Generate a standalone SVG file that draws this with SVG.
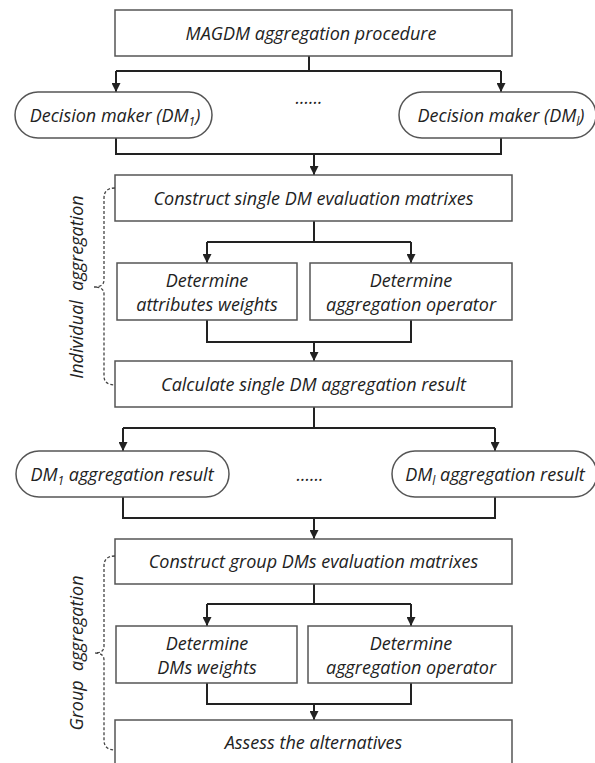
<svg xmlns="http://www.w3.org/2000/svg" width="595" height="763" viewBox="0 0 595 763">
<style>
  .box { fill: #fff; stroke: #555; stroke-width: 1.5; }
  .t { font-family: "Open Sans", "Liberation Sans", sans-serif; font-style: italic; font-size: 18px; fill: #222; text-anchor: middle; }
  .c { fill: none; stroke: #222; stroke-width: 2; }
  .brace { fill: none; stroke: #444; stroke-width: 1.3; stroke-dasharray: 3 2; }
  .sub { font-size: 12px; }
</style>
<defs>
  <marker id="ah" viewBox="0 0 10 10" refX="10" refY="5" markerWidth="4.5" markerHeight="4.5" orient="auto" markerUnits="strokeWidth">
    <path d="M0,0 L10,5 L0,10 z" fill="#222"/>
  </marker>
</defs>
<rect width="595" height="763" fill="#fff"/>

<g id="connectors">
  <path class="c" d="M309,56 V71 M116,71 H501"/>
  <path class="c" d="M116,71 V92" marker-end="url(#ah)"/>
  <path class="c" d="M501,71 V92" marker-end="url(#ah)"/>
  <path class="c" d="M116,138 V154 H501 V137"/>
  <path class="c" d="M314,154 V175" marker-end="url(#ah)"/>
  <path class="c" d="M314,221 V242 M207,242 H411"/>
  <path class="c" d="M207,242 V263" marker-end="url(#ah)"/>
  <path class="c" d="M411,242 V263" marker-end="url(#ah)"/>
  <path class="c" d="M207,320 V342 H411 V320"/>
  <path class="c" d="M314,342 V361" marker-end="url(#ah)"/>
  <path class="c" d="M314,407 V428 M123,428 H495"/>
  <path class="c" d="M123,428 V451" marker-end="url(#ah)"/>
  <path class="c" d="M495,428 V451" marker-end="url(#ah)"/>
  <path class="c" d="M123,497 V518 H495 V497"/>
  <path class="c" d="M314,518 V539" marker-end="url(#ah)"/>
  <path class="c" d="M314,584 V604 M207,604 H411"/>
  <path class="c" d="M207,604 V626" marker-end="url(#ah)"/>
  <path class="c" d="M411,604 V626" marker-end="url(#ah)"/>
  <path class="c" d="M207,683 V704 H411 V683"/>
  <path class="c" d="M314,704 V720" marker-end="url(#ah)"/>
</g>

<g id="n-top">
  <rect class="box" x="115" y="10" width="397" height="46"/>
  <text class="t" x="311" y="39.5">MAGDM aggregation procedure</text>
</g>
<g id="n-dm1">
  <rect class="box" x="15" y="92" width="197" height="46" rx="23"/>
  <text class="t" x="115" y="121.5">Decision maker (<tspan>DM</tspan><tspan class="sub" dy="4">1</tspan><tspan dy="-4">)</tspan></text>
</g>
<g id="n-dots1">
  <text class="t" x="309" y="104">......</text>
</g>
<g id="n-dml">
  <rect class="box" x="399" y="92" width="197" height="46" rx="23"/>
  <text class="t" x="501" y="121.5">Decision maker (<tspan>DM</tspan><tspan class="sub" dy="4">l</tspan><tspan dy="-4">)</tspan></text>
</g>

<g id="n-construct1">
  <rect class="box" x="115" y="175" width="397" height="46"/>
  <text class="t" x="313.5" y="204.5">Construct single DM evaluation matrixes</text>
</g>
<g id="n-attrw">
  <rect class="box" x="117" y="263" width="180" height="57"/>
  <text class="t" x="207" y="286.5">Determine</text>
  <text class="t" x="207" y="310.5">attributes weights</text>
</g>
<g id="n-op1">
  <rect class="box" x="310" y="263" width="202" height="57"/>
  <text class="t" x="411" y="286.5">Determine</text>
  <text class="t" x="411" y="310.5">aggregation operator</text>
</g>
<g id="n-calc">
  <rect class="box" x="115" y="361" width="397" height="46"/>
  <text class="t" x="313.5" y="390.5">Calculate single DM aggregation result</text>
</g>

<g id="n-res1">
  <rect class="box" x="16" y="451" width="213" height="46" rx="23"/>
  <text class="t" x="122" y="480.5">DM<tspan class="sub" dy="4">1</tspan><tspan dy="-4"> aggregation result</tspan></text>
</g>
<g id="n-dots2">
  <text class="t" x="310" y="481">......</text>
</g>
<g id="n-resl">
  <rect class="box" x="392" y="451" width="205" height="46" rx="23"/>
  <text class="t" x="495" y="480.5">DM<tspan class="sub" dy="4">l</tspan><tspan dy="-4"> aggregation result</tspan></text>
</g>

<g id="n-construct2">
  <rect class="box" x="115" y="539" width="397" height="45"/>
  <text class="t" x="313.5" y="568">Construct group DMs evaluation matrixes</text>
</g>
<g id="n-dmw">
  <rect class="box" x="116" y="626" width="181" height="57"/>
  <text class="t" x="207" y="649.5">Determine</text>
  <text class="t" x="207" y="673.5">DMs weights</text>
</g>
<g id="n-op2">
  <rect class="box" x="308" y="626" width="204" height="57"/>
  <text class="t" x="411" y="649.5">Determine</text>
  <text class="t" x="411" y="673.5">aggregation operator</text>
</g>
<g id="n-assess">
  <rect class="box" x="115" y="720" width="397" height="60"/>
  <text class="t" x="313.5" y="749">Assess the alternatives</text>
</g>

<g id="brace-individual">
  <path class="brace" d="M115,188 Q104,188 104,198 V280 Q104,287 94,287 Q104,287 104,294 V376 Q104,385 115,385"/>
  <text class="t" transform="translate(83,287) rotate(-90)" xml:space="preserve">Individual  aggregation</text>
</g>
<g id="brace-group">
  <path class="brace" d="M115,556 Q104,556 104,566 V646 Q104,653 95,653 Q104,653 104,660 V740 Q104,750 115,750"/>
  <text class="t" transform="translate(83,653) rotate(-90)" xml:space="preserve">Group  aggregation</text>
</g>
</svg>
